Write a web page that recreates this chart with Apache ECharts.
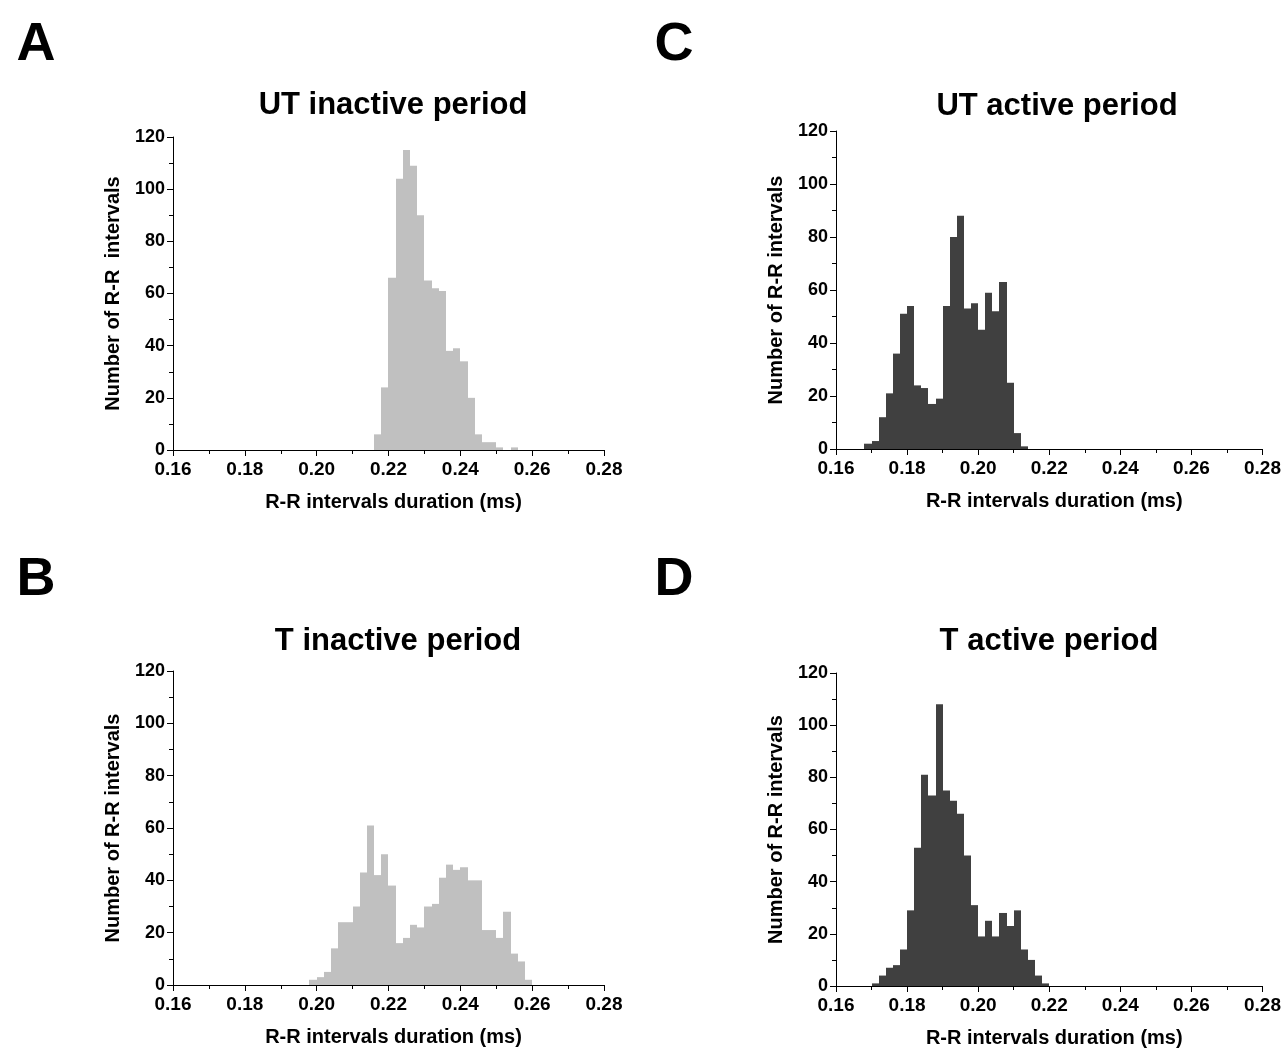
<!DOCTYPE html>
<html>
<head>
<meta charset="utf-8">
<script src="https://cdn.jsdelivr.net/npm/echarts@6/dist/echarts.min.js"></script>
<style>
  html, body { margin: 0; padding: 0; background: #fff; }
  #chart { width: 1284px; height: 1050px; }
</style>
</head>
<body>
<div id="chart"></div>
<script>
// histogram bin width (s)
const binWidth = 0.002

// A: UT inactive period
const utInactiveBins = [0.216, 0.218, 0.220, 0.222, 0.224, 0.226, 0.228, 0.230, 0.232, 0.234,
    0.236, 0.238, 0.240, 0.242, 0.244, 0.246, 0.248, 0.250, 0.252, 0.254]
const utInactiveCounts = [6, 24, 66, 104, 115, 109, 90, 65, 62, 61,
    38, 39, 34, 20, 6, 3, 3, 1, 0, 1]

// B: T inactive period
const tInactiveBins = [0.198, 0.200, 0.202, 0.204, 0.206, 0.208, 0.210, 0.212, 0.214, 0.216,
    0.218, 0.220, 0.222, 0.224, 0.226, 0.228, 0.230, 0.232, 0.234, 0.236,
    0.238, 0.240, 0.242, 0.244, 0.246, 0.248, 0.250, 0.252, 0.254, 0.256, 0.258]
const tInactiveCounts = [2, 3, 5, 14, 24, 24, 30, 43, 61, 42,
    50, 38, 16, 18, 23, 22, 30, 31, 41, 46,
    44, 45, 40, 40, 21, 21, 18, 28, 12, 9, 2]

// C: UT active period
const utActiveBins = [0.168, 0.170, 0.172, 0.174, 0.176, 0.178, 0.180, 0.182, 0.184, 0.186,
    0.188, 0.190, 0.192, 0.194, 0.196, 0.198, 0.200, 0.202, 0.204, 0.206,
    0.208, 0.210, 0.212]
const utActiveCounts = [2, 3, 12, 21, 36, 51, 54, 24, 23, 17,
    19, 54, 80, 88, 53, 55, 45, 59, 52, 63,
    25, 6, 1]

// D: T active period
const tActiveBins = [0.170, 0.172, 0.174, 0.176, 0.178, 0.180, 0.182, 0.184, 0.186, 0.188,
    0.190, 0.192, 0.194, 0.196, 0.198, 0.200, 0.202, 0.204, 0.206, 0.208,
    0.210, 0.212, 0.214, 0.216, 0.218]
const tActiveCounts = [1, 4, 7, 8, 14, 29, 53, 81, 73, 108,
    75, 71, 66, 50, 31, 19, 25, 19, 28, 23,
    29, 14, 10, 4, 1]

const xTicks = [0.16, 0.18, 0.20, 0.22, 0.24, 0.26, 0.28]
const yTicks = [0, 20, 40, 60, 80, 100, 120]

const FONT = 'Liberation Sans, Arial, sans-serif'
const lightGrey = '#c0c0c0'
const darkGrey = '#404040'

const panels = [
    { letter: 'A', title: 'UT inactive period', bins: utInactiveBins, counts: utInactiveCounts,
      color: lightGrey, yName: 'Number of R-R  intervals',
      grid: { left: 173, top: 137, width: 431, height: 313 },
      letterPos: [31, 13], titlePos: [388, 85] },
    { letter: 'B', title: 'T inactive period', bins: tInactiveBins, counts: tInactiveCounts,
      color: lightGrey, yName: 'Number of R-R intervals',
      grid: { left: 173, top: 671, width: 431, height: 314 },
      letterPos: [31, 548], titlePos: [393, 621] },
    { letter: 'C', title: 'UT active period', bins: utActiveBins, counts: utActiveCounts,
      color: darkGrey, yName: 'Number of R-R intervals',
      grid: { left: 836, top: 131, width: 430, height: 318 },
      letterPos: [669, 13], titlePos: [1052, 86] },
    { letter: 'D', title: 'T active period', bins: tActiveBins, counts: tActiveCounts,
      color: darkGrey, yName: 'Number of R-R intervals',
      grid: { left: 836, top: 673, width: 430, height: 313 },
      letterPos: [669, 548], titlePos: [1044, 621] },
]

const axisLine = { lineStyle: { color: '#000', width: 1 } }

const option = {
    backgroundColor: '#fff',
    animation: false,
    title: [],
    grid: [],
    xAxis: [],
    yAxis: [],
    series: [],
}

panels.forEach((p, i) => {
    option.grid.push(p.grid)

    // panel letter
    option.title.push({
        text: p.letter, left: p.letterPos[0], top: p.letterPos[1], textAlign: 'center',
        textStyle: { fontFamily: FONT, fontWeight: 'bold', fontSize: 54, color: '#000' },
    })
    // panel title
    option.title.push({
        text: p.title, left: p.titlePos[0], top: p.titlePos[1], textAlign: 'center',
        textStyle: { fontFamily: FONT, fontWeight: 'bold', fontSize: 31, color: '#000' },
    })

    option.xAxis.push({
        type: 'value', gridIndex: i,
        min: xTicks[0], max: xTicks[xTicks.length - 1], interval: 0.02,
        name: 'R-R intervals duration (ms)', nameLocation: 'middle', nameGap: 42,
        nameTextStyle: { fontFamily: FONT, fontWeight: 'bold', fontSize: 20, color: '#000', padding: [0, 0, 0, 10] },
        axisLine: axisLine,
        axisTick: { length: 6, lineStyle: { color: '#000' } },
        minorTick: { show: true, splitNumber: 2, length: 4, lineStyle: { color: '#000' } },
        splitLine: { show: false },
        axisLabel: {
            fontFamily: FONT, fontWeight: 'bold', fontSize: 19, color: '#000', margin: 10,
            formatter: (v) => v.toFixed(2),
        },
    })

    option.yAxis.push({
        type: 'value', gridIndex: i,
        min: yTicks[0], max: yTicks[yTicks.length - 1], interval: 20,
        name: p.yName, nameLocation: 'middle', nameGap: 50,
        nameTextStyle: { fontFamily: FONT, fontWeight: 'bold', fontSize: 20, color: '#000' },
        axisLine: { show: true, ...axisLine },
        axisTick: { show: true, length: 6, lineStyle: { color: '#000' } },
        minorTick: { show: true, splitNumber: 2, length: 4, lineStyle: { color: '#000' } },
        splitLine: { show: false },
        axisLabel: { fontFamily: FONT, fontWeight: 'bold', fontSize: 18, color: '#000', margin: 8 },
    })

    option.series.push({
        type: 'custom', xAxisIndex: i, yAxisIndex: i,
        data: p.bins.map((b, k) => [b, b + binWidth, p.counts[k]]),
        renderItem(params, api) {
            const p0 = api.coord([api.value(0), api.value(2)])
            const p1 = api.coord([api.value(1), 0])
            // snap to whole pixels so neighbouring bins join without hairline gaps
            const x0 = Math.round(p0[0])
            const x1 = Math.round(p1[0])
            return {
                type: 'rect',
                shape: { x: x0, y: p0[1], width: x1 - x0, height: p1[1] - p0[1] },
                style: { fill: p.color },
            }
        },
    })
})

const myChart = echarts.init(document.getElementById('chart'))
myChart.setOption(option)
</script>
</body>
</html>
